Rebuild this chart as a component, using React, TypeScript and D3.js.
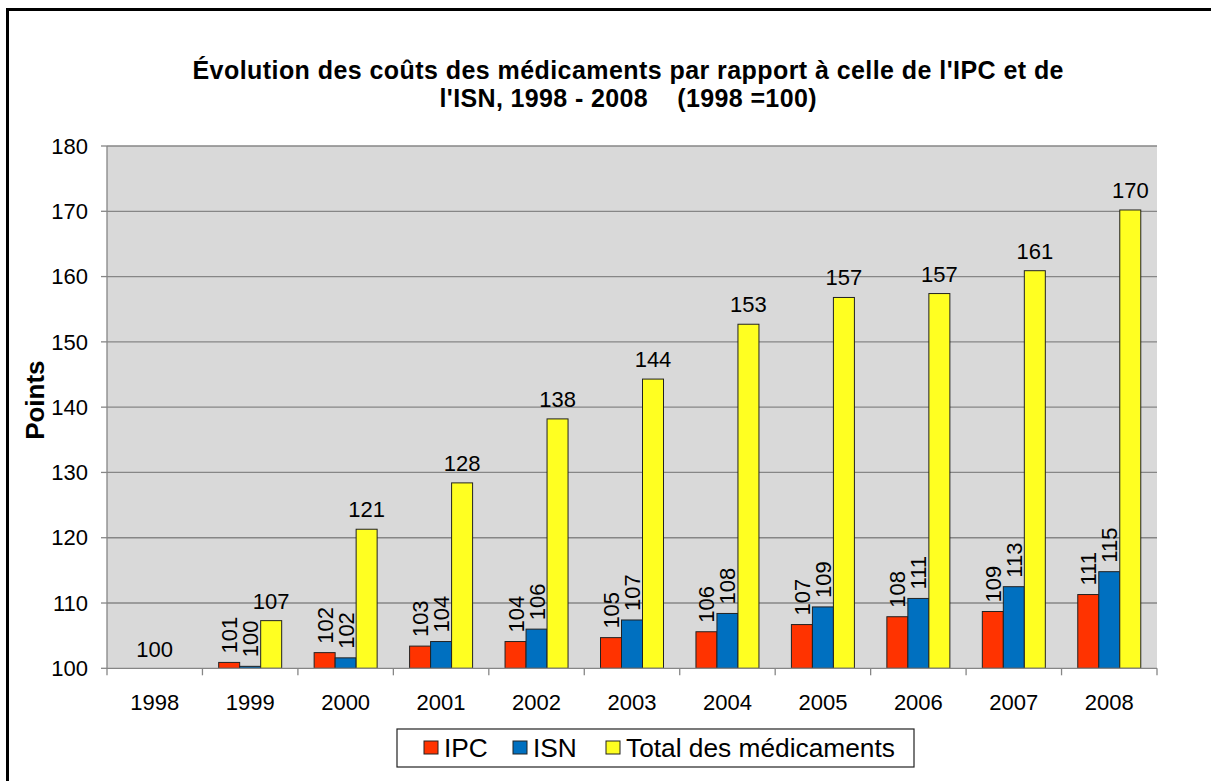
import React from 'react';
import * as d3 from 'd3';

const years = ['1998', '1999', '2000', '2001', '2002', '2003', '2004', '2005', '2006', '2007', '2008'];
const ipc = [100, 100.9, 102.4, 103.4, 104.1, 104.7, 105.6, 106.7, 107.9, 108.7, 111.3];
const isn = [100, 100.3, 101.6, 104.1, 106.0, 107.4, 108.4, 109.4, 110.7, 112.5, 114.8];
const total = [100, 107.3, 121.3, 128.4, 138.2, 144.3, 152.7, 156.8, 157.4, 160.9, 170.2];
const yTicks = [100, 110, 120, 130, 140, 150, 160, 170, 180];
const seriesNames = ['IPC', 'ISN', 'Total des médicaments'];
const seriesColors = ['#FF3300', '#0070C0', '#FFFF21'];
const titleLines = ["Évolution des coûts des médicaments par rapport à celle de l'IPC et de", "l'ISN, 1998 - 2008    (1998 =100)"];
const yLabel = 'Points';

const W = 1211;
const H = 781;
const FONT = 'Arial, "Liberation Sans", sans-serif';

export default function App() {
  const left = 107, right = 1157, top = 146, bottom = 668.3;
  const x = d3.scaleBand<string>().domain(years).range([left, right]).paddingInner(0).paddingOuter(0);
  const bw = x.bandwidth();
  const barW = bw * 0.22;
  const x1 = d3.scaleBand<number>().domain([0, 1, 2]).range([0, barW * 3]);
  const y = d3.scaleLinear().domain([100, 180]).range([bottom, top]);
  const series = [ipc, isn, total];
  const fmt = (v: number) => String(Math.round(v));
  const fs = 22;
  const titleLens = [871, 377];

  return (
    <svg width={W} height={H} style={{ position: 'absolute', left: 0, top: 0 }} fontFamily={FONT}>
      <rect x={0} y={0} width={W} height={H} fill="#fff" />
      {/* outer frame */}
      <line x1={6} x2={W} y1={9.5} y2={9.5} stroke="#000" strokeWidth={3} />
      <line x1={7.5} x2={7.5} y1={8} y2={H} stroke="#000" strokeWidth={3} />

      {/* title */}
      {titleLines.map((t, i) => (
        <text key={i} x={(left + right) / 2 - 4} y={79 + i * 28} textAnchor="middle" fontWeight="bold" fontSize={25}
          textLength={titleLens[i]} lengthAdjust="spacing" style={{ whiteSpace: 'pre' }}>{t}</text>
      ))}

      {/* plot area */}
      <rect x={left} y={top} width={right - left} height={bottom - top} fill="#D9D9D9" />
      {yTicks.map((t) => (
        <g key={t}>
          {t > 100 && <line x1={left} x2={right} y1={y(t)} y2={y(t)} stroke="#868686" strokeWidth={1.3} />}
          <line x1={left - 6} x2={left} y1={y(t)} y2={y(t)} stroke="#868686" strokeWidth={1.3} />
          <text x={88} y={y(t)} dy="0.35em" textAnchor="end" fontSize={fs}>{t}</text>
        </g>
      ))}
      <line x1={left} x2={left} y1={top} y2={bottom} stroke="#868686" strokeWidth={1.3} />

      {/* bars */}
      {years.map((yr, i) => {
        const gx = (x(yr) as number) + (bw - barW * 3) / 2;
        const allFlat = series.every((s) => s[i] === 100);
        return (
          <g key={yr}>
            {series.map((s, k) => {
              const v = s[i];
              if (v === 100) return null;
              const bx = gx + (x1(k) as number);
              const by = y(v);
              return (
                <rect key={k} x={bx} y={by} width={barW} height={bottom - by} fill={seriesColors[k]}
                  stroke="#222" strokeWidth={1} />
              );
            })}
            {allFlat ? (
              <text x={(x(yr) as number) + bw / 2} y={657} textAnchor="middle" fontSize={fs}>{fmt(total[i])}</text>
            ) : (
              series.map((s, k) => {
                const v = s[i];
                const cx = gx + (x1(k) as number) + barW / 2;
                const by = y(v);
                if (k === 2) {
                  return <text key={'l' + k} x={cx} y={by - 12} textAnchor="middle" fontSize={fs}>{fmt(v)}</text>;
                }
                return (
                  <text key={'l' + k} transform={`translate(${cx + 8},${by - 9}) rotate(-90)`} textAnchor="start"
                    fontSize={fs}>{fmt(v)}</text>
                );
              })
            )}
          </g>
        );
      })}

      {/* x axis */}
      <line x1={left} x2={right} y1={bottom} y2={bottom} stroke="#868686" strokeWidth={1.3} />
      {years.map((yr, i) => (
        <g key={'t' + yr}>
          <line x1={x(yr) as number} x2={x(yr) as number} y1={bottom} y2={bottom + 7} stroke="#868686" strokeWidth={1.3} />
          {i === years.length - 1 && (
            <line x1={right} x2={right} y1={bottom} y2={bottom + 7} stroke="#868686" strokeWidth={1.3} />
          )}
          <text x={(x(yr) as number) + bw / 2} y={710} textAnchor="middle" fontSize={fs}>{yr}</text>
        </g>
      ))}

      {/* y label */}
      <text transform={`translate(44,${(top + bottom) / 2 - 7}) rotate(-90)`} textAnchor="middle" fontWeight="bold"
        fontSize={26}>{yLabel}</text>

      {/* legend */}
      <rect x={397} y={729} width={517} height={38} fill="#fff" stroke="#222" strokeWidth={1.2} />
      {seriesNames.map((n, k) => {
        const sx = [424, 513, 606][k];
        return (
          <g key={n}>
            <rect x={sx} y={741} width={14} height={13} fill={seriesColors[k]} stroke="#222" strokeWidth={1} />
            <text x={sx + 20} y={757} fontSize={26.3}>{n}</text>
          </g>
        );
      })}
    </svg>
  );
}
